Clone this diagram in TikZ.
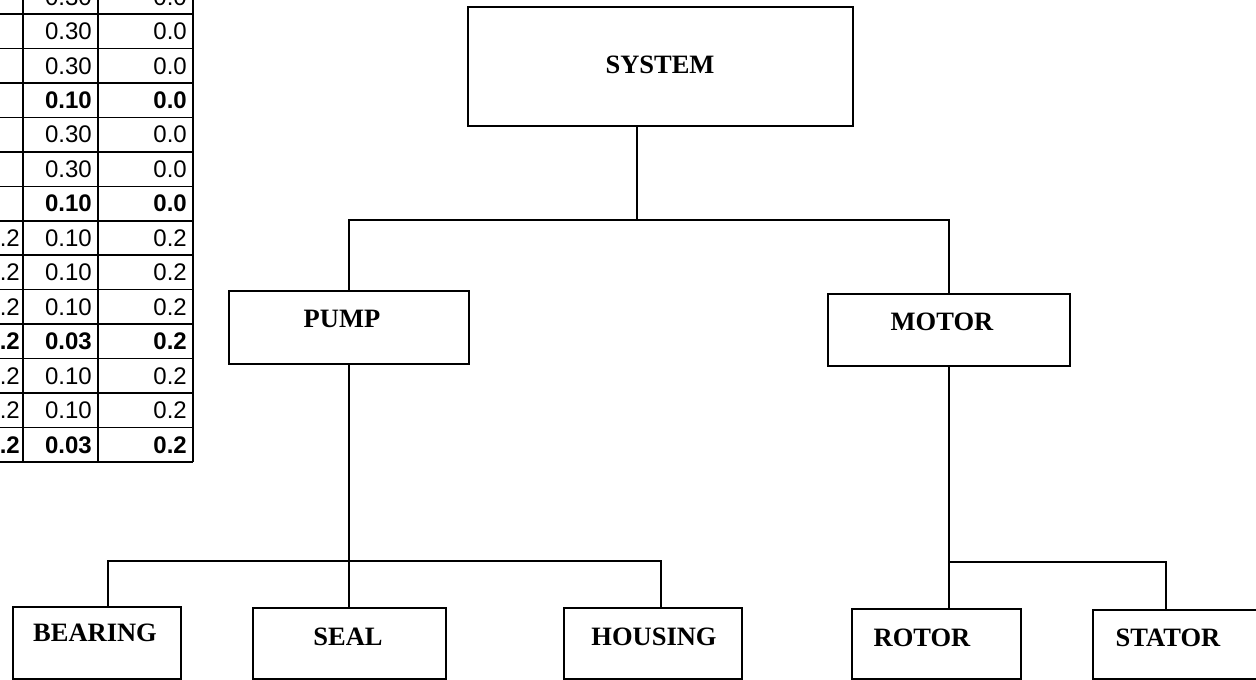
\documentclass[tikz,border=0pt]{standalone}
\usepackage{fontspec}
\setmainfont{Liberation Serif}
\newfontfamily\tabfont{Liberation Sans}
\begin{document}
\begin{tikzpicture}[x=1pt,y=-1pt,
  box/.style={draw, line width=2pt, inner sep=0pt},
  lbl/.style={font=\fontsize{26.5}{30}\selectfont\bfseries, inner sep=0pt},
  wire/.style={line width=2pt},
  grid/.style={line width=1.6pt},
  cell/.style={font=\tabfont\fontsize{24}{28}\selectfont, anchor=base east, inner sep=0pt},
  bcell/.style={font=\tabfont\fontsize{24}{28}\selectfont\bfseries, anchor=base east, inner sep=0pt}]
\useasboundingbox (0,0) rectangle (1256,680);
\clip (0,0) rectangle (1256,680);

% ---- table fragment ----
\foreach \k in {0,...,13}
  \draw[grid] (0,{14+34.46*\k}) -- (193,{14+34.46*\k});
\foreach \x in {23,98,193}
  \draw[grid] (\x,-5) -- (\x,462);
\foreach \k/\m/\n/\s in {-1/0.30/0.0/cell, 0/0.30/0.0/cell, 1/0.30/0.0/cell, 2/0.10/0.0/bcell,
    3/0.30/0.0/cell, 4/0.30/0.0/cell, 5/0.10/0.0/bcell,
    6/0.10/0.2/cell, 7/0.10/0.2/cell, 8/0.10/0.2/cell, 9/0.03/0.2/bcell,
    10/0.10/0.2/cell, 11/0.10/0.2/cell, 12/0.03/0.2/bcell}{
  \node[\s] (m\k) at (92,{31.2+34.46*\k+8.4}) {\m};
  \node[\s] (n\k) at (187,{31.2+34.46*\k+8.4}) {\n};
}
\foreach \k/\s in {6/cell, 7/cell, 8/cell, 9/bcell, 10/cell, 11/cell, 12/bcell}
  \node[\s] (l\k) at (20,{31.2+34.46*\k+8.4}) {0.2};

% ---- boxes ----
\node[box, minimum width=385pt, minimum height=119pt] (system) at (660.5,66.5) {};
\node[box, minimum width=240pt, minimum height=73pt] (pump) at (349,327.5) {};
\node[box, minimum width=242pt, minimum height=72pt] (motor) at (949,330) {};
\node[box, minimum width=168pt, minimum height=72pt] (bearing) at (97,643) {};
\node[box, minimum width=193pt, minimum height=71pt] (seal) at (349,643.5) {};
\node[box, minimum width=178pt, minimum height=71pt] (housing) at (653,643.5) {};
\node[box, minimum width=169pt, minimum height=70pt] (rotor) at (936.5,644) {};
\node[box, minimum width=187pt, minimum height=69pt] (stator) at (1186.5,644.5) {};

% ---- labels ----
\node[lbl] (systemt) at (660,65) {SYSTEM};
\node[lbl] (pumpt) at (342,319) {PUMP};
\node[lbl] (motort) at (942,322) {MOTOR};
\node[lbl] (bearingt) at (95,633) {BEARING};
\node[lbl] (sealt) at (348,637) {SEAL};
\node[lbl] (housingt) at (654,637) {HOUSING};
\node[lbl] (rotort) at (922,638) {ROTOR};
\node[lbl] (statort) at (1168,638) {STATOR};

% ---- connectors ----
\coordinate (j1) at (637,220);
\coordinate (j2) at (349,561);
\coordinate (bj) at (108,561);
\coordinate (hj) at (661,561);
\coordinate (mj) at (949,562);
\coordinate (sj) at (1166,562);

\draw[wire] (system.south -| j1) -- (j1);
\draw[wire] (pump.north) -- (pump.north |- j1) -- (motor.north |- j1) -- (motor.north);
\draw[wire] (pump.south) -- (seal.north);
\draw[wire] (bj |- bearing.north) -- (bj) -- (hj) -- (hj |- housing.north);
\draw[wire] (motor.south) -- (mj |- rotor.north);
\draw[wire] (mj) -- (sj) -- (sj |- stator.north);
\end{tikzpicture}
\end{document}
